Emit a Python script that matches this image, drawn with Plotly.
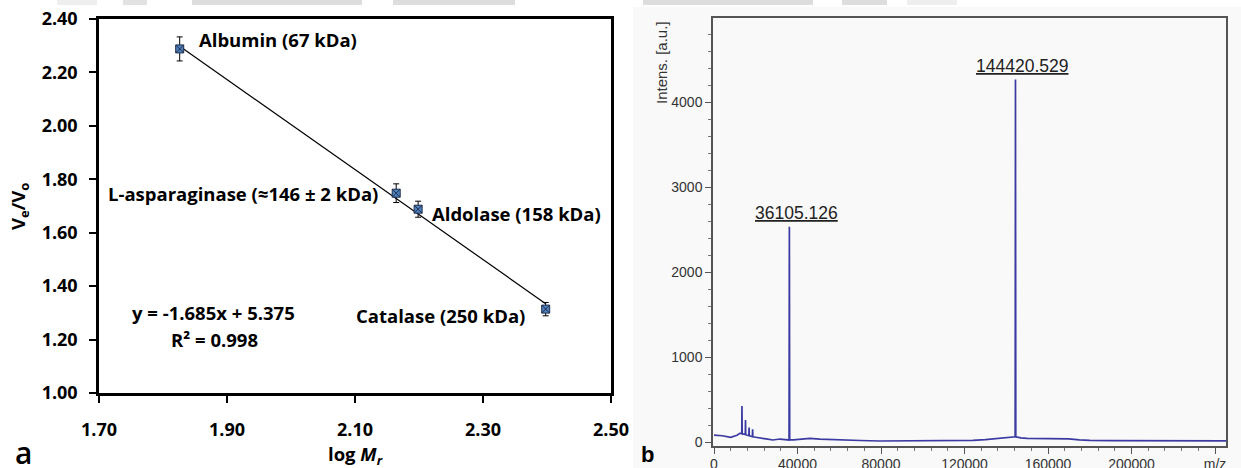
import numpy as np
import plotly.graph_objects as go

W, H = 1241, 468


def px(x):
    return x / W


def py(y):
    return 1 - y / H


# ---- Panel a: gel filtration calibration ----
protein_labels = ["Albumin (67 kDa)", "L-asparaginase (≈146 ± 2 kDa)",
                  "Aldolase (158 kDa)", "Catalase (250 kDa)"]
mass_kda = [67, 146, 158, 250]
ve_vo = [2.288, 1.748, 1.688, 1.314]
ve_vo_err = [0.045, 0.035, 0.030, 0.025]
fit_slope = -1.685
fit_intercept = 5.375
fit_r2 = 0.998
a_xticks = [1.70, 1.90, 2.10, 2.30, 2.50]
a_yticks = [1.00, 1.20, 1.40, 1.60, 1.80, 2.00, 2.20, 2.40]

# ---- Panel b: MALDI-TOF spectrum ----
spectrum_mz = [0, 4000, 8000, 11000, 12400, 13300, 13400, 13500, 14200, 15000,
               15100, 15200, 16000, 16700, 16800, 16900, 17600, 18400, 18500, 18600,
               20000, 22000, 25000, 28200, 31600, 34000, 35950, 36105, 36260, 38000,
               42000, 45900, 50700, 55000, 60300, 70000, 79400, 90000, 100000, 110000,
               120000, 124000, 130000, 136000, 141000, 144270, 144420, 144570, 147000, 150000,
               160000, 170000, 175000, 180000, 190000, 200000, 215000, 230000, 245500]
spectrum_int = [88, 80, 61, 85, 108, 110, 430, 100, 98, 95,
                265, 92, 85, 80, 175, 80, 75, 70, 155, 68,
                62, 57, 42, 30, 41, 35, 30, 2540, 30, 32,
                40, 49, 39, 34, 30, 24, 18, 18, 17, 17,
                20, 25, 35, 50, 62, 68, 4270, 66, 55, 49,
                45, 44, 32, 25, 22, 21, 21, 20, 20]
peak_mz = [36105.126, 144420.529]
peak_int = [2540, 4270]
b_xticks = [0, 40000, 80000, 120000, 160000, 200000, 240000]
b_xticktext = ["0", "40000", "80000", "120000", "160000", "200000", "m/z"]
b_yticks = [0, 1000, 2000, 3000, 4000]

FA = "Open Sans"
FB = "Liberation Sans"

log_mr = np.log10(mass_kda)
fit_x = np.array([log_mr.min(), log_mr.max()])
fit_y = fit_slope * fit_x + fit_intercept

fig = go.Figure()

fig.add_trace(go.Scatter(
    x=fit_x, y=fit_y, mode="lines", line=dict(color="black", width=1.2),
    xaxis="x", yaxis="y", showlegend=False, hoverinfo="skip"))
fig.add_trace(go.Scatter(
    x=log_mr, y=ve_vo, mode="markers",
    marker=dict(symbol="square-x", size=8, color="#4F81BD",
                line=dict(color="#1F2D4D", width=1)),
    error_y=dict(type="data", array=ve_vo_err, color="black", thickness=1, width=3),
    xaxis="x", yaxis="y", showlegend=False))

fig.add_trace(go.Scatter(
    x=spectrum_mz, y=spectrum_int, mode="lines",
    line=dict(color="#3A3AA2", width=1.7),
    xaxis="x2", yaxis="y2", showlegend=False))

fig.update_layout(
    width=W, height=H, margin=dict(l=0, r=0, t=0, b=0, autoexpand=False),
    paper_bgcolor="white", plot_bgcolor="rgba(0,0,0,0)",
    xaxis=dict(domain=[px(99), px(611)], range=[1.70, 2.50], tickvals=a_xticks,
               tickformat=".2f", ticks="outside", ticklen=7, tickwidth=1.5,
               tickcolor="black", showline=True, linecolor="black", linewidth=2.5,
               mirror=True, showgrid=False, zeroline=False, ticklabelstandoff=12,
               tickfont=dict(family=FA, size=18, color="black", weight="bold"),
               anchor="y", automargin=False),
    yaxis=dict(domain=[py(393), py(19)], range=[1.00, 2.40], tickvals=a_yticks,
               tickformat=".2f", ticks="outside", ticklen=7, tickwidth=1.5,
               tickcolor="black", showline=True, linecolor="black", linewidth=2.5,
               mirror=True, showgrid=False, zeroline=False, ticklabelstandoff=8,
               tickfont=dict(family=FA, size=18, color="black", weight="bold"),
               anchor="x", automargin=False),
    xaxis2=dict(domain=[px(713), px(1226)], range=[-480, 245270],
                tickvals=b_xticks, ticktext=b_xticktext,
                ticks="outside", ticklen=6, tickcolor="#555",
                minor=dict(tickvals=list(range(8000, 245000, 8000)), ticks="outside",
                           ticklen=3, tickcolor="#777"),
                showline=True, linecolor="#555", linewidth=1.5, mirror=True,
                showgrid=False, zeroline=False, ticklabelstandoff=-2,
                tickfont=dict(family=FB, size=14, color="#333"), anchor="y2",
                automargin=False),
    yaxis2=dict(domain=[py(446), py(18)], range=[-41, 4995],
                tickvals=b_yticks, ticks="outside", ticklen=6, tickcolor="#555",
                minor=dict(tickvals=list(range(200, 5000, 200)), ticks="outside",
                           ticklen=3, tickcolor="#777"),
                showline=True, linecolor="#555", linewidth=1.5, mirror=True,
                showgrid=False, zeroline=False,
                tickfont=dict(family=FB, size=14, color="#333"), anchor="x2",
                automargin=False),
)

shapes = []
# light backdrop behind the spectrum panel
shapes.append(dict(type="rect", xref="paper", yref="paper", x0=px(633), x1=1,
                   y0=0, y1=py(7), fillcolor="#F9F9F9", line=dict(width=0),
                   layer="below"))
# faint grey bands along the top edge
for x0, x1, c in [(57, 97, "#EEEEEE"), (123, 147, "#E2E2E2"), (192, 362, "#DDDDDD"),
                  (393, 515, "#DDDDDD"), (643, 813, "#DDDDDD"), (842, 887, "#DDDDDD"),
                  (907, 957, "#EEEEEE")]:
    shapes.append(dict(type="rect", xref="paper", yref="paper", x0=px(x0), x1=px(x1),
                       y0=py(5), y1=1, fillcolor=c, line=dict(width=0), layer="below"))
fig.update_layout(shapes=shapes)

ann = []
fa_bold = dict(family=FA, size=18.5, color="black", weight="bold")
# protein labels next to each calibration point: (anchor, xshift, yshift)
label_place = [("left", 17, 9), ("right", -16, 0), ("left", 12, -4), ("right", -19, -6)]
for name, lx, ly, (anc, dx, dy) in zip(protein_labels, log_mr, ve_vo, label_place):
    ann.append(dict(x=lx, y=ly, xref="x", yref="y", text=name, showarrow=False,
                    xanchor=anc, yanchor="middle", xshift=dx, yshift=dy, font=fa_bold))
ann.append(dict(x=px(213), y=py(312), xref="paper", yref="paper",
                text=f"y = {fit_slope:.3f}x + {fit_intercept:.3f}", showarrow=False,
                xanchor="center", yanchor="middle", font=fa_bold))
ann.append(dict(x=px(214), y=py(339), xref="paper", yref="paper",
                text=f"R² = {fit_r2:.3f}", showarrow=False,
                xanchor="center", yanchor="middle", font=fa_bold))
ann.append(dict(x=px(19), y=py(207), xref="paper", yref="paper",
                text="V<sub>e</sub>/V<sub>o</sub>", textangle=-90, showarrow=False,
                xanchor="center", yanchor="middle", font=fa_bold))
ann.append(dict(x=px(355), y=py(455), xref="paper", yref="paper",
                text="log <i>M</i><sub><i>r</i></sub>", showarrow=False,
                xanchor="center", yanchor="middle", font=fa_bold))
ann.append(dict(x=px(23), y=py(452), xref="paper", yref="paper", text="a",
                showarrow=False, xanchor="center", yanchor="middle",
                font=dict(family=FA, size=30, color="black", weight=600)))
ann.append(dict(x=px(647), y=py(454), xref="paper", yref="paper", text="b",
                showarrow=False, xanchor="center", yanchor="middle",
                font=dict(family=FB, size=22, color="black", weight="bold")))
ann.append(dict(x=px(662), y=py(63), xref="paper", yref="paper", text="Intens. [a.u.]",
                textangle=-90, showarrow=False, xanchor="center", yanchor="middle",
                font=dict(family=FB, size=15, color="#333")))
for mz, h in zip(peak_mz, peak_int):
    ann.append(dict(x=mz, y=h, xref="x2", yref="y2", text=f"<u>{mz:.3f}</u>",
                    showarrow=False, xanchor="center", yanchor="bottom",
                    xshift=7, yshift=2,
                    font=dict(family=FB, size=17.5, color="#222")))
fig.update_layout(annotations=ann)

fig.write_html("out.html")
